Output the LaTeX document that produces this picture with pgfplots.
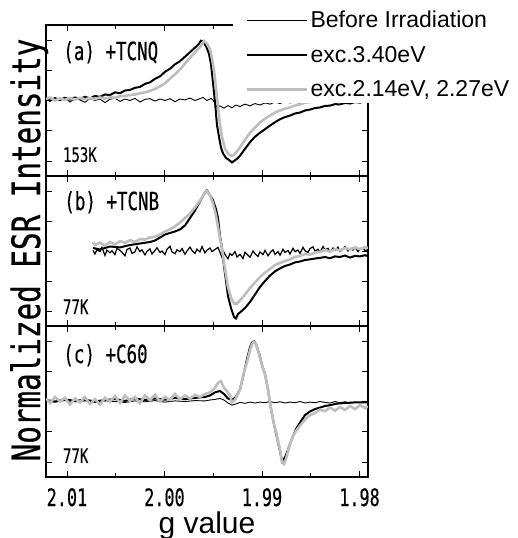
\documentclass[border=0pt]{standalone}
\usepackage{fontspec}
\setmainfont{Liberation Sans}
\newfontfamily\gothic[FakeStretch=0.7, FakeBold=0.4]{DejaVu Sans Mono}
\newfontfamily\gothicw[FakeStretch=0.75, FakeBold=0.6]{DejaVu Sans Mono}
\usepackage{pgfplots}
\pgfplotsset{compat=1.18}
\definecolor{lgray}{HTML}{BEBEBE}

\pgfplotsset{
  esr/.style={
    width=322bp, height=151bp, scale only axis,
    x dir=reverse, xmin=1.97913, xmax=2.01215,
    ymin=-2.5, ymax=2.5,
    xtick={1.98,1.99,2.00,2.01}, minor xtick={1.985,1.995,2.005},
    xticklabels={}, ytick={-2,-1,0,1,2}, yticklabels={},
    tick align=inside, major tick length=6bp, minor tick length=4bp,
    axis line style={line width=1.2bp},
    tick style={line width=0.8bp, black},
  },
  before/.style={black, line width=0.9bp},
  uv/.style={black, line width=2bp},
  vis/.style={lgray, line width=2.6bp},
}
\newcommand\lab{\gothic\fontsize{25bp}{25bp}\selectfont}
\newcommand\temp{\gothic\fontsize{20bp}{20bp}\selectfont}

\begin{document}
\begin{tikzpicture}
\useasboundingbox (0bp,0bp) rectangle (518bp,-538bp);

% (a) TCNQ
\begin{axis}[esr, at={(46bp,-25bp)}, anchor=north west]
\addplot[before] coordinates {(2.01215,0.05)(2.01174,-0.03)(2.01123,0.08)(2.01072,0.00)(2.01021,0.10)(2.00969,-0.05)(2.00918,0.06)(2.00867,0.02)(2.00815,-0.06)(2.00764,0.07)(2.00713,0.00)(2.00662,0.05)(2.00610,-0.07)(2.00559,0.04)(2.00508,0.08)(2.00456,-0.03)(2.00405,0.05)(2.00354,0.00)(2.00303,0.07)(2.00251,-0.05)(2.00200,0.04)(2.00149,0.06)(2.00097,-0.02)(2.00046,0.05)(1.99995,0.00)(1.99944,0.06)(1.99892,-0.04)(1.99841,0.05)(1.99790,0.02)(1.99738,0.08)(1.99687,0.00)(1.99646,0.05)(1.99605,0.10)(1.99564,0.00)(1.99523,0.07)(1.99503,0.02)(1.99482,-0.10)(1.99462,-0.22)(1.99431,-0.18)(1.99390,-0.25)(1.99349,-0.17)(1.99308,-0.24)(1.99267,-0.15)(1.99226,-0.20)(1.99174,-0.12)(1.99123,-0.18)(1.99072,-0.10)(1.99021,-0.15)(1.98969,-0.08)(1.98918,-0.12)(1.98867,-0.05)(1.98815,-0.10)(1.98764,-0.03)(1.98713,-0.08)(1.98662,-0.04)(1.98610,-0.10)(1.98559,-0.02)(1.98508,-0.07)(1.98456,0.00)(1.98405,-0.06)(1.98354,-0.02)(1.98303,-0.05)(1.98251,0.02)(1.98200,-0.04)(1.98149,0.00)(1.98097,-0.05)(1.98046,0.02)(1.97995,-0.03)(1.97944,0.01)(1.97913,-0.02)};
\addplot[uv] coordinates {(2.01215,0.05)(2.01174,0.00)(2.01123,0.08)(2.01072,0.02)(2.01021,0.09)(2.00969,0.03)(2.00918,0.10)(2.00867,0.06)(2.00815,0.12)(2.00764,0.07)(2.00713,0.15)(2.00662,0.12)(2.00610,0.20)(2.00559,0.18)(2.00508,0.27)(2.00456,0.24)(2.00405,0.33)(2.00354,0.35)(2.00303,0.42)(2.00251,0.45)(2.00200,0.55)(2.00149,0.60)(2.00097,0.72)(2.00046,0.80)(1.99995,0.95)(1.99944,1.05)(1.99892,1.20)(1.99841,1.30)(1.99790,1.45)(1.99738,1.60)(1.99687,1.75)(1.99646,1.88)(1.99626,1.98)(1.99605,1.95)(1.99574,1.80)(1.99544,1.55)(1.99523,1.20)(1.99503,0.60)(1.99482,-0.05)(1.99462,-0.80)(1.99441,-1.20)(1.99421,-1.55)(1.99400,-1.75)(1.99369,-1.90)(1.99338,-1.97)(1.99308,-2.05)(1.99277,-1.98)(1.99246,-1.90)(1.99226,-1.83)(1.99174,-1.60)(1.99123,-1.38)(1.99072,-1.20)(1.99021,-1.07)(1.98969,-0.95)(1.98918,-0.83)(1.98867,-0.72)(1.98815,-0.62)(1.98764,-0.55)(1.98713,-0.50)(1.98662,-0.43)(1.98610,-0.40)(1.98559,-0.33)(1.98508,-0.30)(1.98456,-0.25)(1.98405,-0.23)(1.98354,-0.18)(1.98303,-0.17)(1.98251,-0.12)(1.98200,-0.13)(1.98149,-0.08)(1.98097,-0.10)(1.98046,-0.05)(1.97995,-0.07)(1.97944,-0.02)(1.97913,-0.03)};
\addplot[vis] coordinates {(2.01215,0.05)(2.01174,0.10)(2.01123,0.00)(2.01072,0.07)(2.01021,0.02)(2.00969,0.08)(2.00918,0.03)(2.00867,0.09)(2.00815,0.04)(2.00764,0.08)(2.00713,0.05)(2.00662,0.10)(2.00610,0.06)(2.00559,0.11)(2.00508,0.09)(2.00456,0.14)(2.00405,0.15)(2.00354,0.18)(2.00303,0.20)(2.00251,0.24)(2.00200,0.27)(2.00149,0.32)(2.00097,0.38)(2.00046,0.47)(1.99995,0.57)(1.99944,0.72)(1.99892,0.87)(1.99841,1.03)(1.99790,1.22)(1.99738,1.42)(1.99687,1.60)(1.99636,1.77)(1.99595,1.97)(1.99564,1.88)(1.99533,1.70)(1.99513,1.40)(1.99492,1.00)(1.99472,0.40)(1.99451,-0.20)(1.99431,-0.80)(1.99410,-1.20)(1.99379,-1.60)(1.99349,-1.75)(1.99318,-1.83)(1.99287,-1.80)(1.99256,-1.68)(1.99226,-1.55)(1.99174,-1.30)(1.99123,-1.07)(1.99072,-0.90)(1.99021,-0.73)(1.98969,-0.60)(1.98918,-0.50)(1.98867,-0.40)(1.98815,-0.33)(1.98764,-0.27)(1.98713,-0.23)(1.98662,-0.17)(1.98610,-0.13)(1.98559,-0.07)(1.98508,-0.05)(1.98456,-0.02)(1.98405,0.00)(1.98354,0.03)(1.98303,0.00)(1.98251,0.05)(1.98200,0.02)(1.98149,0.06)(1.98097,0.03)(1.98046,0.07)(1.97995,0.04)(1.97944,0.08)(1.97913,0.06)};
\node[anchor=base west, font=\lab] at (rel axis cs:0.043,0.768) {(a) +TCNQ};
\node[anchor=base west, font=\temp] at (rel axis cs:0.042,0.093) {153K};
\end{axis}

% legend, drawn after panel (a) so that its white box covers that corner
\begin{axis}[esr, hide axis, at={(46bp,-25bp)}, anchor=north west,
  legend style={at={(0.58,1.126)}, anchor=north west, draw=none, fill=white,
    font=\fontsize{23bp}{25bp}\selectfont, inner xsep=13bp, inner ysep=3bp,
    row sep=13bp, cells={anchor=west}},
  legend image code/.code={\draw[#1] (0bp,0bp) -- (60bp,0bp);},
]
\addlegendimage{before}
\addlegendentry{Before Irradiation}
\addlegendimage{uv}
\addlegendentry{exc.3.40eV}
\addlegendimage{vis}
\addlegendentry{exc.2.14eV, 2.27eV}
\end{axis}

% (b) TCNB
\begin{axis}[esr, at={(46bp,-176bp)}, anchor=north west, height=150bp]
\addplot[before, line width=1.2bp] coordinates {(2.00733,0.02)(2.00713,-0.10)(2.00692,0.05)(2.00662,-0.02)(2.00641,0.12)(2.00610,-0.15)(2.00590,0.03)(2.00559,-0.06)(2.00538,0.01)(2.00508,-0.12)(2.00487,0.09)(2.00456,0.02)(2.00436,-0.04)(2.00405,-0.16)(2.00385,0.05)(2.00354,0.10)(2.00333,-0.08)(2.00303,-0.03)(2.00282,0.14)(2.00251,-0.02)(2.00231,0.04)(2.00200,-0.13)(2.00179,-0.01)(2.00149,0.07)(2.00128,-0.10)(2.00097,0.02)(2.00077,0.11)(2.00046,-0.05)(2.00026,0.00)(1.99995,-0.12)(1.99974,0.06)(1.99944,0.16)(1.99923,-0.03)(1.99892,-0.09)(1.99872,0.04)(1.99841,-0.02)(1.99820,0.08)(1.99790,-0.11)(1.99769,0.00)(1.99738,0.13)(1.99718,0.02)(1.99687,-0.08)(1.99667,0.06)(1.99636,-0.03)(1.99615,0.15)(1.99585,-0.06)(1.99564,0.03)(1.99533,0.10)(1.99513,-0.02)(1.99482,0.05)(1.99451,0.12)(1.99431,-0.04)(1.99410,-0.22)(1.99390,-0.05)(1.99379,-0.12)(1.99349,-0.26)(1.99328,-0.08)(1.99308,-0.15)(1.99277,-0.02)(1.99256,-0.20)(1.99226,-0.11)(1.99195,-0.25)(1.99174,-0.04)(1.99144,-0.14)(1.99123,-0.21)(1.99092,0.00)(1.99072,-0.09)(1.99041,-0.18)(1.99021,-0.03)(1.98990,-0.12)(1.98969,0.02)(1.98938,-0.16)(1.98918,-0.06)(1.98887,0.04)(1.98867,-0.11)(1.98836,-0.02)(1.98815,-0.14)(1.98785,0.06)(1.98764,-0.05)(1.98733,0.02)(1.98713,-0.10)(1.98682,0.09)(1.98662,-0.02)(1.98631,0.03)(1.98610,-0.08)(1.98579,0.12)(1.98559,0.01)(1.98528,-0.05)(1.98508,0.08)(1.98477,0.14)(1.98456,-0.01)(1.98426,0.06)(1.98405,-0.04)(1.98374,0.15)(1.98354,0.04)(1.98323,0.09)(1.98303,-0.03)(1.98272,0.10)(1.98251,0.02)(1.98221,0.13)(1.98200,-0.02)(1.98169,0.07)(1.98149,0.15)(1.98118,0.00)(1.98097,0.09)(1.98067,0.03)(1.98046,0.12)(1.98015,-0.02)(1.97995,0.06)(1.97964,0.11)(1.97944,0.01)(1.97913,0.05)};
\addplot[uv] coordinates {(2.00733,0.10)(2.00662,0.05)(2.00559,0.15)(2.00456,0.12)(2.00354,0.20)(2.00251,0.25)(2.00149,0.30)(2.00097,0.35)(2.00046,0.45)(1.99995,0.55)(1.99944,0.60)(1.99892,0.65)(1.99841,0.72)(1.99790,0.85)(1.99738,1.10)(1.99687,1.35)(1.99636,1.65)(1.99585,1.95)(1.99564,2.02)(1.99533,1.85)(1.99503,1.70)(1.99472,1.40)(1.99451,1.10)(1.99431,0.50)(1.99410,0.10)(1.99390,-0.50)(1.99369,-1.00)(1.99349,-1.50)(1.99318,-1.90)(1.99287,-2.20)(1.99267,-2.25)(1.99246,-2.10)(1.99226,-2.05)(1.99174,-1.90)(1.99123,-1.70)(1.99072,-1.45)(1.99021,-1.20)(1.98969,-1.00)(1.98918,-0.82)(1.98867,-0.68)(1.98815,-0.58)(1.98764,-0.50)(1.98713,-0.45)(1.98662,-0.38)(1.98610,-0.35)(1.98559,-0.30)(1.98508,-0.28)(1.98456,-0.25)(1.98405,-0.23)(1.98354,-0.20)(1.98303,-0.24)(1.98251,-0.18)(1.98200,-0.20)(1.98149,-0.15)(1.98097,-0.22)(1.98046,-0.16)(1.97995,-0.18)(1.97944,-0.14)(1.97913,-0.17)};
\addplot[vis] coordinates {(2.00733,0.30)(2.00713,0.20)(2.00662,0.28)(2.00610,0.18)(2.00559,0.30)(2.00508,0.22)(2.00456,0.33)(2.00405,0.27)(2.00354,0.36)(2.00303,0.30)(2.00251,0.40)(2.00200,0.38)(2.00149,0.45)(2.00097,0.48)(2.00046,0.55)(1.99995,0.65)(1.99944,0.72)(1.99892,0.82)(1.99841,0.95)(1.99790,1.10)(1.99738,1.25)(1.99687,1.45)(1.99636,1.68)(1.99595,1.90)(1.99564,2.00)(1.99533,1.85)(1.99503,1.60)(1.99472,1.20)(1.99441,0.60)(1.99410,0.05)(1.99379,-0.60)(1.99349,-1.20)(1.99318,-1.55)(1.99287,-1.75)(1.99256,-1.75)(1.99226,-1.65)(1.99174,-1.45)(1.99123,-1.23)(1.99072,-1.05)(1.99021,-0.87)(1.98969,-0.72)(1.98918,-0.60)(1.98867,-0.47)(1.98815,-0.40)(1.98764,-0.33)(1.98713,-0.28)(1.98662,-0.20)(1.98610,-0.17)(1.98559,-0.10)(1.98508,-0.12)(1.98456,-0.05)(1.98405,-0.03)(1.98354,0.03)(1.98303,-0.02)(1.98251,0.06)(1.98200,0.02)(1.98149,0.10)(1.98097,0.05)(1.98046,0.12)(1.97995,0.06)(1.97944,0.13)(1.97913,0.10)};
\node[anchor=base west, font=\lab] at (rel axis cs:0.046,0.773) {(b) +TCNB};
\node[anchor=base west, font=\temp] at (rel axis cs:0.042,0.08) {77K};
\end{axis}

% (c) C60
\begin{axis}[esr, at={(46bp,-326bp)}, anchor=north west,
  xticklabels={1.98,1.99,2.00,2.01},
  xticklabel style={font=\gothic\fontsize{24bp}{24bp}\selectfont, anchor=base, yshift=-29bp},
]
\addplot[before] coordinates {(2.01215,0.02)(2.01123,-0.02)(2.01021,0.03)(2.00918,-0.01)(2.00815,0.02)(2.00713,-0.03)(2.00610,0.02)(2.00508,0.00)(2.00405,-0.03)(2.00303,0.02)(2.00200,-0.01)(2.00097,0.03)(1.99995,-0.02)(1.99892,0.02)(1.99790,0.00)(1.99687,0.03)(1.99585,0.02)(1.99533,0.05)(1.99482,0.07)(1.99431,0.10)(1.99390,0.05)(1.99349,-0.05)(1.99308,-0.12)(1.99267,-0.08)(1.99226,-0.03)(1.99174,-0.06)(1.99123,-0.02)(1.99072,-0.05)(1.99021,-0.02)(1.98969,-0.04)(1.98918,0.00)(1.98867,-0.04)(1.98815,-0.01)(1.98764,-0.05)(1.98713,-0.02)(1.98662,-0.04)(1.98610,0.00)(1.98559,-0.05)(1.98508,-0.02)(1.98456,-0.04)(1.98405,0.00)(1.98354,-0.03)(1.98303,-0.05)(1.98251,0.00)(1.98200,-0.04)(1.98149,-0.01)(1.98097,-0.05)(1.98046,-0.02)(1.97995,-0.04)(1.97944,0.00)(1.97913,-0.02)};
\addplot[uv] coordinates {(2.01215,0.05)(2.01123,0.00)(2.01021,0.07)(2.00918,0.02)(2.00815,0.06)(2.00713,0.00)(2.00610,0.05)(2.00508,0.08)(2.00405,0.02)(2.00303,0.10)(2.00200,0.05)(2.00097,0.10)(1.99995,0.06)(1.99892,0.12)(1.99790,0.08)(1.99687,0.12)(1.99585,0.15)(1.99533,0.20)(1.99482,0.30)(1.99431,0.35)(1.99390,0.25)(1.99349,0.10)(1.99308,0.05)(1.99267,0.15)(1.99226,0.40)(1.99195,0.80)(1.99154,1.40)(1.99123,1.80)(1.99103,1.95)(1.99082,2.00)(1.99062,1.90)(1.99041,1.70)(1.99021,1.50)(1.99000,1.20)(1.98969,0.90)(1.98938,0.40)(1.98918,-0.05)(1.98887,-0.60)(1.98846,-1.20)(1.98815,-1.65)(1.98795,-1.98)(1.98764,-1.85)(1.98733,-1.60)(1.98713,-1.40)(1.98682,-1.15)(1.98641,-0.85)(1.98610,-0.70)(1.98559,-0.45)(1.98508,-0.33)(1.98456,-0.25)(1.98405,-0.20)(1.98354,-0.15)(1.98303,-0.12)(1.98231,-0.07)(1.98149,-0.05)(1.98046,-0.03)(1.97913,-0.03)};
\addplot[vis] coordinates {(2.01215,0.10)(2.01174,-0.05)(2.01123,0.15)(2.01072,0.00)(2.01021,0.12)(2.00969,-0.10)(2.00918,0.10)(2.00867,-0.03)(2.00815,0.14)(2.00764,-0.08)(2.00713,0.08)(2.00662,-0.10)(2.00610,0.12)(2.00559,0.00)(2.00508,0.18)(2.00456,-0.05)(2.00405,0.20)(2.00354,0.02)(2.00303,0.15)(2.00251,-0.06)(2.00200,0.20)(2.00149,0.05)(2.00097,0.22)(2.00046,0.00)(1.99995,0.15)(1.99944,0.05)(1.99892,0.25)(1.99841,0.08)(1.99790,0.20)(1.99738,0.10)(1.99687,0.22)(1.99636,0.15)(1.99585,0.25)(1.99533,0.30)(1.99482,0.45)(1.99451,0.62)(1.99421,0.67)(1.99390,0.45)(1.99359,0.35)(1.99328,0.20)(1.99308,-0.03)(1.99277,0.05)(1.99246,0.25)(1.99226,0.40)(1.99195,0.85)(1.99154,1.30)(1.99123,1.70)(1.99103,1.90)(1.99082,1.98)(1.99062,1.90)(1.99041,1.68)(1.99021,1.45)(1.99000,1.20)(1.98969,0.88)(1.98938,0.40)(1.98918,-0.05)(1.98887,-0.60)(1.98846,-1.15)(1.98815,-1.60)(1.98795,-2.00)(1.98774,-2.07)(1.98754,-1.90)(1.98733,-1.65)(1.98713,-1.40)(1.98682,-1.15)(1.98641,-0.93)(1.98610,-0.80)(1.98559,-0.60)(1.98508,-0.45)(1.98456,-0.38)(1.98405,-0.27)(1.98354,-0.32)(1.98303,-0.20)(1.98251,-0.30)(1.98200,-0.18)(1.98149,-0.28)(1.98097,-0.15)(1.98046,-0.25)(1.97995,-0.12)(1.97944,-0.22)(1.97913,-0.17)};
\node[anchor=base west, font=\lab] at (rel axis cs:0.043,0.755) {(c) +C60};
\node[anchor=base west, font=\temp] at (rel axis cs:0.042,0.093) {77K};
\end{axis}

\node[rotate=90, anchor=base, font=\gothicw\fontsize{39bp}{39bp}\selectfont] at (40bp,-250bp) {Normalized ESR Intensity};
\node[anchor=base, font=\fontsize{30bp}{30bp}\selectfont] at (207bp,-533bp) {g value};
\end{tikzpicture}
\end{document}
